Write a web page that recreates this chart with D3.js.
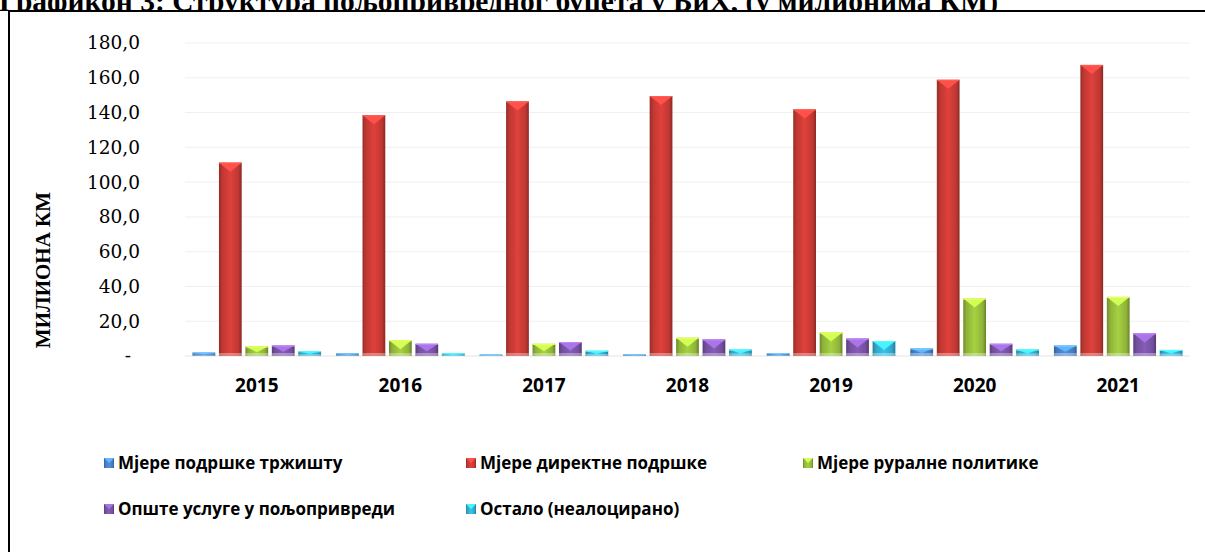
<!DOCTYPE html>
<html>
<head>
<meta charset="utf-8">
<title>Графикон 3</title>
<style>
  body { margin:0; background:#fff; }
  svg { display:block; }
</style>
</head>
<body>
<div id="chart"></div>
<script src="https://d3js.org/d3.v7.min.js"></script>
<script>
// podaci (milioni KM), procjena sa slike
var years = ["2015", "2016", "2017", "2018", "2019", "2020", "2021"];
var seriesNames = ["Мјере подршке тржишту", "Мјере директне подршке", "Мјере руралне политике",
                   "Опште услуге у пољопривреди", "Остало (неалоцирано)"];
var marketSupport   = [2.0, 1.5, 0.8, 1.0, 1.6, 4.3, 6.0];
var directSupport   = [111.2, 138.5, 146.4, 149.5, 141.8, 158.8, 167.4];
var ruralPolicy     = [5.5, 9.0, 7.0, 10.5, 13.5, 33.0, 34.0];
var generalServices = [6.0, 7.0, 8.0, 9.5, 10.0, 7.0, 13.0];
var otherSpending   = [2.7, 1.5, 3.0, 3.7, 8.6, 3.7, 3.5];
var yTicks = [0, 20, 40, 60, 80, 100, 120, 140, 160, 180];

var seriesValues = [marketSupport, directSupport, ruralPolicy, generalServices, otherSpending];
var colors = ["#4a84cc", "#cc3b36", "#98bf3c", "#7b55a8", "#33b2d6"];

var W = 1205, H = 552;
var svg = d3.select("#chart").append("svg").attr("width", W).attr("height", H);
var defs = svg.append("defs");

// gradijenti za "3D" stubove
colors.forEach(function(c, i){
  var g = defs.append("linearGradient").attr("id", "grad" + i)
    .attr("x1", "0%").attr("x2", "100%").attr("y1", "0%").attr("y2", "0%");
  var base = d3.color(c);
  g.append("stop").attr("offset", "0%").attr("stop-color", base.darker(0.9));
  g.append("stop").attr("offset", "14%").attr("stop-color", base.darker(0.2));
  g.append("stop").attr("offset", "50%").attr("stop-color", base.brighter(0.25));
  g.append("stop").attr("offset", "86%").attr("stop-color", base.darker(0.2));
  g.append("stop").attr("offset", "100%").attr("stop-color", base.darker(1.1));
});

// naslov (odsjecen gore, kao u originalu)
svg.append("text")
  .attr("x", -1).attr("y", 11)
  .attr("font-family", "Liberation Serif, serif")
  .attr("font-weight", "bold")
  .attr("font-size", "29.5px")
  .text("Графикон 3: Структура пољопривредног буџета у БиХ, (у милионима КМ)");

// okvir
svg.append("rect")
  .attr("x", 9).attr("y", 11).attr("width", 1300).attr("height", 700)
  .attr("fill", "#fff").attr("stroke", "#000").attr("stroke-width", 2);

var x0 = d3.scaleBand().domain(years).range([185, 1190]).padding(0);
var x1 = d3.scaleBand().domain(d3.range(seriesNames.length))
  .range([7.5, x0.bandwidth() - 7.5]).paddingInner(0.14).paddingOuter(0);
var y = d3.scaleLinear().domain([0, 180]).range([356, 43]);

// mreza
svg.append("g").selectAll("line").data(yTicks).enter().append("line")
  .attr("x1", 185).attr("x2", 1190)
  .attr("y1", function(d){ return y(d); }).attr("y2", function(d){ return y(d); })
  .attr("stroke", function(d){ return d === 0 ? "#e4e4e4" : "#f0f0f0"; })
  .attr("stroke-width", 1);

// y osa
var yAxis = d3.axisLeft(y).tickValues(yTicks).tickSize(0).tickPadding(8)
  .tickFormat(function(d){ return d === 0 ? "-" : d.toFixed(1).replace(".", ","); });
var gy = svg.append("g").attr("transform", "translate(148,0)").call(yAxis);
gy.select(".domain").remove();
gy.selectAll("text")
  .attr("font-family", "DejaVu Serif, serif")
  .attr("font-size", "18.5px")
  .attr("fill", "#000")
  .attr("dx", function(d){ return d === 0 ? -9 : 0; });

svg.append("text")
  .attr("transform", "translate(50,270) rotate(-90)")
  .attr("text-anchor", "middle")
  .attr("font-family", "Liberation Serif, serif")
  .attr("font-weight", "bold")
  .attr("font-size", "21px")
  .text("МИЛИОНА КМ");

// x osa
var xAxis = d3.axisBottom(x0).tickSize(0).tickPadding(23);
var gx = svg.append("g").attr("transform", "translate(0,356)").call(xAxis);
gx.select(".domain").remove();
gx.selectAll("text")
  .attr("font-family", "Open Sans, sans-serif")
  .attr("font-weight", "bold")
  .attr("font-size", "19px")
  .attr("fill", "#000");

// stubovi
var groups = svg.append("g").selectAll("g").data(years).enter().append("g")
  .attr("transform", function(d){ return "translate(" + x0(d) + ",0)"; });

groups.each(function(yr, yi){
  var g = d3.select(this);
  seriesValues.forEach(function(vals, si){
    var v = vals[yi];
    var bx = x1(si), bw = x1.bandwidth();
    var top = y(v), h = y(0) - top;
    var base = d3.color(colors[si]);
    g.append("rect")
      .attr("x", bx).attr("y", top).attr("width", bw).attr("height", h)
      .attr("fill", "url(#grad" + si + ")");
    // kosina na vrhu
    var dep = Math.min(9, h * 0.6);
    g.append("path")
      .attr("d", "M" + bx + "," + top + "L" + (bx + bw) + "," + top + "L" + (bx + bw / 2) + "," + (top + dep) + "Z")
      .attr("fill", base.brighter(0.9));
    g.append("line")
      .attr("x1", bx).attr("x2", bx + bw).attr("y1", top + 0.5).attr("y2", top + 0.5)
      .attr("stroke", base.brighter(1.3)).attr("stroke-width", 1);
    // odsjaj pri dnu
    g.append("rect")
      .attr("x", bx).attr("y", y(0) - Math.min(3, h * 0.4)).attr("width", bw).attr("height", Math.min(3, h * 0.4))
      .attr("fill", "#fff").attr("opacity", 0.35);
  });
});

// legenda
var legendPos = [[104, 463], [466, 463], [803, 463], [104, 509], [466, 509]];
var leg = svg.append("g").selectAll("g").data(seriesNames).enter().append("g")
  .attr("transform", function(d, i){ return "translate(" + legendPos[i][0] + "," + legendPos[i][1] + ")"; });
leg.append("rect")
  .attr("x", 0).attr("y", -5).attr("width", 10).attr("height", 10)
  .attr("fill", function(d, i){ return "url(#grad" + i + ")"; });
leg.append("path")
  .attr("d", "M0,-5L10,-5L5,0Z")
  .attr("fill", function(d, i){ return d3.color(colors[i]).brighter(0.9); });
leg.append("text")
  .attr("x", 14).attr("y", 0).attr("dy", "0.35em")
  .attr("font-family", "Open Sans, sans-serif")
  .attr("font-weight", "bold")
  .attr("font-size", "17px")
  .text(function(d){ return d; });
</script>
</body>
</html>
